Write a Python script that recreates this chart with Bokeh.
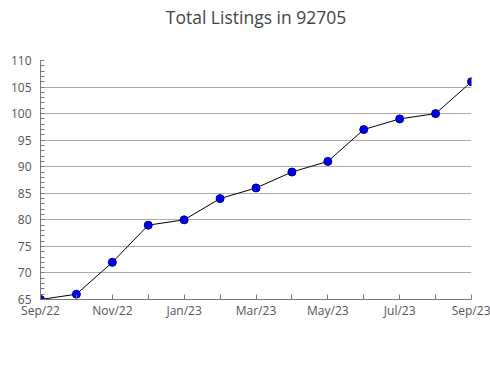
from bokeh.plotting import figure
from bokeh.models import FixedTicker, Range1d, Title
from bokeh.embed import file_html
from bokeh.resources import INLINE

months = ["Sep/22", "Oct/22", "Nov/22", "Dec/22", "Jan/23", "Feb/23", "Mar/23",
          "Apr/23", "May/23", "Jun/23", "Jul/23", "Aug/23", "Sep/23"]
listings = [65, 66, 72, 79, 80, 84, 86, 89, 91, 97, 99, 100, 106]
y_ticks = [65, 70, 75, 80, 85, 90, 95, 100, 105, 110]

x = list(range(len(months)))

p = figure(width=490, height=376, output_backend="svg", toolbar_location=None,
           x_range=Range1d(0, len(months) - 1), y_range=Range1d(65, 110),
           min_border_left=40, min_border_right=19, min_border_top=60, min_border_bottom=77)

p.title.text = "Total Listings in 92705"
p.title.align = "center"
p.title.text_font = "Open Sans"
p.title.text_font_size = "17.5px"
p.title.text_font_style = "normal"
p.title.text_color = "#444444"
p.title.offset = 0
p.title.standoff = 2

spacer = Title(text=" ", text_font_size="16px", standoff=12, text_color="white")
p.add_layout(spacer, "above")

p.outline_line_color = None
p.background_fill_color = "white"
p.border_fill_color = "white"

p.line(x, listings, line_color="black", line_width=1)
p.scatter(x, listings, marker="circle", size=8, fill_color="#0000FF", line_color="#000066", line_width=1)

# x axis
xa = p.xaxis[0]
xa.ticker = FixedTicker(ticks=[i for i in x if i % 2 == 0], minor_ticks=[i for i in x if i % 2 == 1])
xa.major_label_overrides = {i: months[i] for i in x}
xa.major_tick_in = 5
xa.major_tick_out = 0
xa.minor_tick_in = 5
xa.minor_tick_out = 0
xa.axis_line_color = "#777777"
xa.major_tick_line_color = "#777777"
xa.minor_tick_line_color = "#777777"
xa.major_label_text_font = "Open Sans"
xa.major_label_text_font_size = "12px"
xa.major_label_text_color = "#555555"
xa.major_label_standoff = 2

# y axis
ya = p.yaxis[0]
ya.ticker = FixedTicker(ticks=y_ticks, minor_ticks=list(range(65, 111)))
ya.major_tick_in = 0
ya.major_tick_out = 0
ya.minor_tick_in = 4
ya.minor_tick_out = 0
ya.axis_line_color = "#777777"
ya.minor_tick_line_color = "#777777"
ya.major_label_text_font = "Open Sans"
ya.major_label_text_font_size = "12px"
ya.major_label_text_color = "#555555"
ya.major_label_standoff = 9

p.xgrid.grid_line_color = None
p.ygrid.grid_line_color = "#aaaaaa"
p.ygrid.grid_line_width = 1

open("out.html", "w").write(file_html(p, INLINE))
